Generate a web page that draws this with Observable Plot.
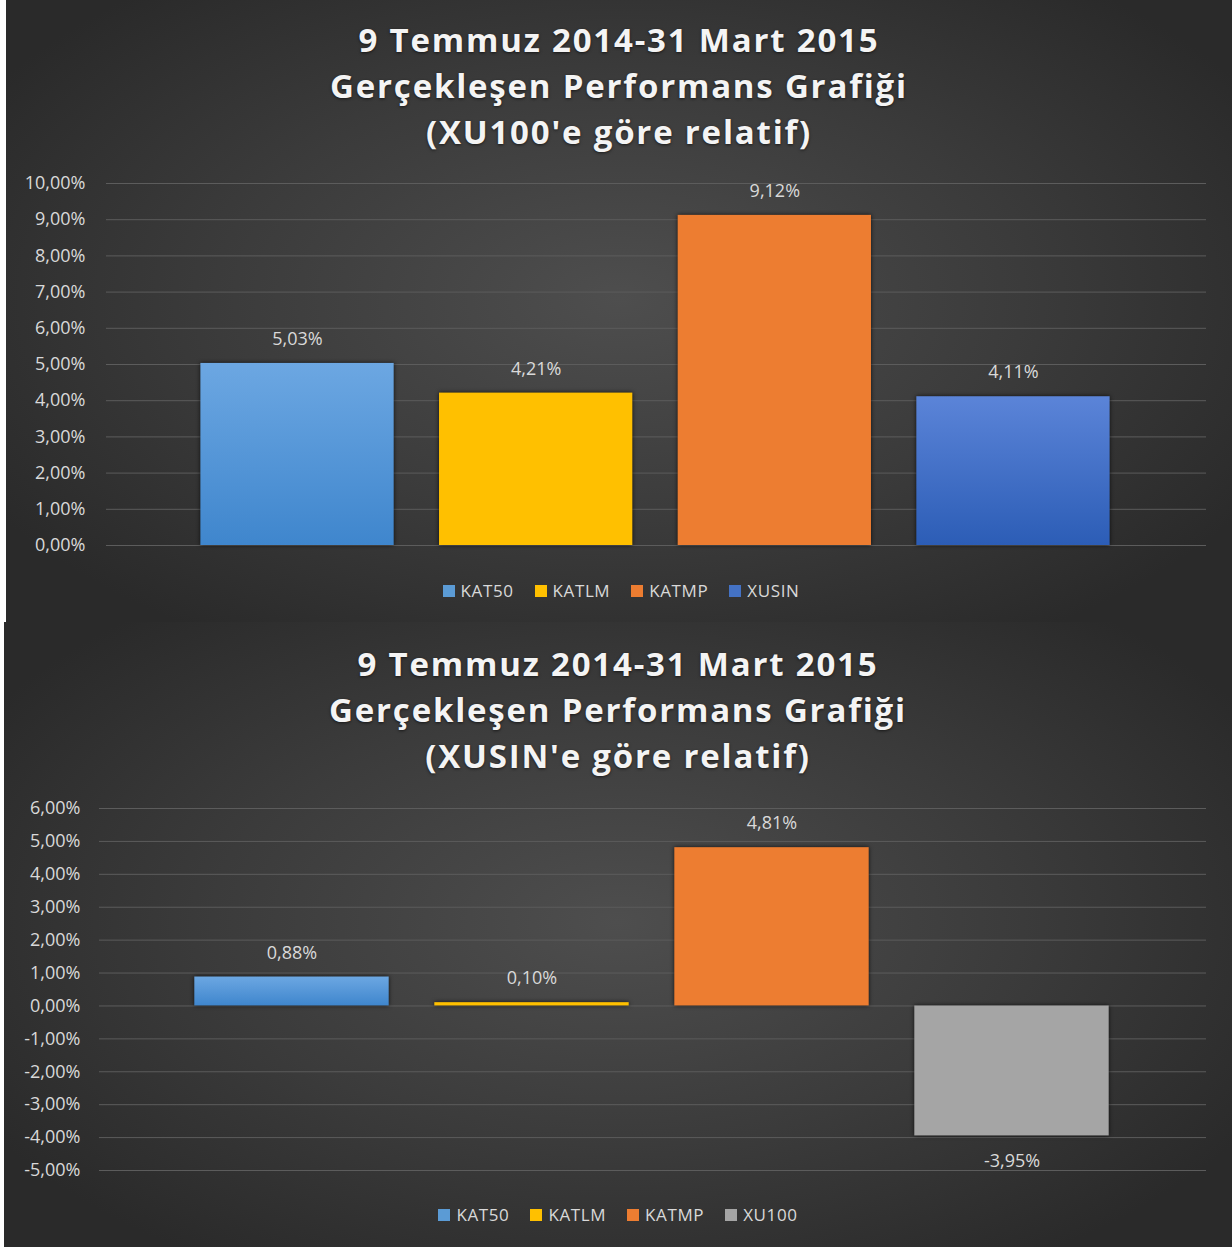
<!DOCTYPE html>
<html>
<head>
<meta charset="utf-8">
<script src="https://cdn.jsdelivr.net/npm/d3@7"></script>
<script src="https://cdn.jsdelivr.net/npm/@observablehq/plot@0.6"></script>
<style>
  html, body { margin: 0; padding: 0; background: #ffffff; }
  body { width: 1232px; height: 1247px; position: relative; overflow: hidden; font-family: "Open Sans", sans-serif; }
  .panel { position: absolute; overflow: hidden;
    background: radial-gradient(ellipse 60% 65% at 50% 48%, #4e4e4e 0%, #3b3b3b 55%, #2a2a2a 100%); }
  .title { position: absolute; left: 0; right: 0; text-align: center; color: #f4f4f4;
    font-weight: 700; font-size: 33px; letter-spacing: 1.8px; line-height: 46px;
    text-shadow: 0 1px 3px rgba(0,0,0,0.6); }
  .legend { position: absolute; left: 0; right: 0; display: flex; justify-content: center; gap: 21px;
    color: #d9d9d9; font-size: 17px; letter-spacing: 0.6px; }
  .legend span.item { display: flex; align-items: center; }
  .legend i { display: inline-block; width: 12px; height: 12px; margin-right: 6px; }
  svg.chart { position: absolute; left: 0; overflow: visible; max-width: none !important; }
</style>
</head>
<body>
<div id="p1" class="panel" style="left:6px; top:0px; width:1226px; height:622px;"></div>
<div id="p2" class="panel" style="left:4px; top:622px; width:1228px; height:625px;"></div>
<script>
// ---- data ----
const titleTop = ["9 Temmuz 2014-31 Mart 2015", "Gerçekleşen Performans Grafiği", "(XU100'e göre relatif)"];
const titleBottom = ["9 Temmuz 2014-31 Mart 2015", "Gerçekleşen Performans Grafiği", "(XUSIN'e göre relatif)"];

const categoriesTop = ["KAT50", "KATLM", "KATMP", "XUSIN"];
const valuesTop = [5.03, 4.21, 9.12, 4.11];
const ticksTop = [0, 1, 2, 3, 4, 5, 6, 7, 8, 9, 10];

const categoriesBottom = ["KAT50", "KATLM", "KATMP", "XU100"];
const valuesBottom = [0.88, 0.10, 4.81, -3.95];
const ticksBottom = [-5, -4, -3, -2, -1, 0, 1, 2, 3, 4, 5, 6];

const legendColors = {KAT50: "#5b9bd5", KATLM: "#ffc000", KATMP: "#ed7d31", XUSIN: "#4472c4", XU100: "#a5a5a5"};
const gradients = {
  KAT50: ["#6ca7e2", "#3f86cd"],
  XUSIN: ["#5b84d8", "#2c5db6"]
};

const fmt = v => v.toFixed(2).replace(".", ",") + "%";

function buildPanel(panelId, titles, titleTop, legendTop, cats, vals, ticks, opts) {
  const panel = document.getElementById(panelId);
  const t = document.createElement("div");
  t.className = "title";
  t.style.top = titleTop + "px";
  t.innerHTML = titles.map(s => `<div>${s}</div>`).join("");
  panel.appendChild(t);

  const data = cats.map((c, i) => ({cat: c, value: vals[i]}));
  const fills = cats.map(c => gradients[c] ? `url(#${panelId}-${c})` : legendColors[c]);

  const svg = Plot.plot({
    width: 1232,
    height: opts.height,
    marginLeft: opts.marginLeft,
    marginRight: opts.marginRight,
    marginTop: opts.marginTop,
    marginBottom: opts.marginBottom,
    style: {background: "transparent", color: "#d9d9d9", fontSize: "18px", fontFamily: "'Open Sans', sans-serif"},
    x: {type: "band", domain: cats, range: opts.xRange, paddingInner: 0.19, paddingOuter: 0.095, round: false, axis: null},
    y: {domain: [ticks[0], ticks[ticks.length - 1]], ticks: ticks, tickFormat: fmt, tickSize: 0,
        tickPadding: opts.tickPadding, label: null},
    color: {type: "ordinal", domain: cats, range: fills},
    marks: [
      Plot.ruleY(ticks, {stroke: "#5c5c5c", strokeWidth: 1}),
      Plot.barY(data, {x: "cat", y: "value", fill: "cat"}),
      Plot.text(data, {x: "cat", y: "value", text: d => fmt(d.value),
        fill: "#d9d9d9", fontSize: 18, filter: d => d.value >= 0, dy: -24}),
      Plot.text(data, {x: "cat", y: "value", text: d => fmt(d.value),
        fill: "#d9d9d9", fontSize: 18, filter: d => d.value < 0, dy: 25})
    ]
  });
  svg.classList.add("chart");
  svg.style.maxWidth = "none";
  svg.style.width = "1232px";
  svg.style.top = (opts.svgTop) + "px";
  svg.style.left = (-opts.panelLeft) + "px";

  const defs = d3.select(svg).insert("defs", ":first-child");
  cats.forEach(c => {
    if (!gradients[c]) return;
    const g = defs.append("linearGradient").attr("id", `${panelId}-${c}`)
      .attr("x1", 0).attr("y1", 0).attr("x2", 0).attr("y2", 1);
    g.append("stop").attr("offset", "0%").attr("stop-color", gradients[c][0]);
    g.append("stop").attr("offset", "100%").attr("stop-color", gradients[c][1]);
  });
  svg.querySelectorAll('g[aria-label="bar"]').forEach(g => {
    g.style.filter = "drop-shadow(0px 0px 2px rgba(0,0,0,0.75))";
  });
  panel.appendChild(svg);

  const lg = document.createElement("div");
  lg.className = "legend";
  lg.style.top = legendTop + "px";
  lg.style.left = opts.legendShift + "px";
  lg.innerHTML = cats.map(c => `<span class="item"><i style="background:${legendColors[c]}"></i>${c}</span>`).join("");
  panel.appendChild(lg);
}

buildPanel("p1", titleTop, 17, 579, categoriesTop, valuesTop, ticksTop, {
  height: 420, marginLeft: 106, marginRight: 26, marginTop: 33, marginBottom: 25, tickPadding: 21,
  xRange: [177.7, 1132.3], svgTop: 150, panelLeft: 6, legendShift: 4
});
buildPanel("p2", titleBottom, 19, 581, categoriesBottom, valuesBottom, ticksBottom, {
  height: 420, marginLeft: 99, marginRight: 26, marginTop: 28, marginBottom: 30, tickPadding: 19,
  xRange: [171.5, 1131.5], svgTop: 158, panelLeft: 4, legendShift: 0
});
</script>
</body>
</html>
